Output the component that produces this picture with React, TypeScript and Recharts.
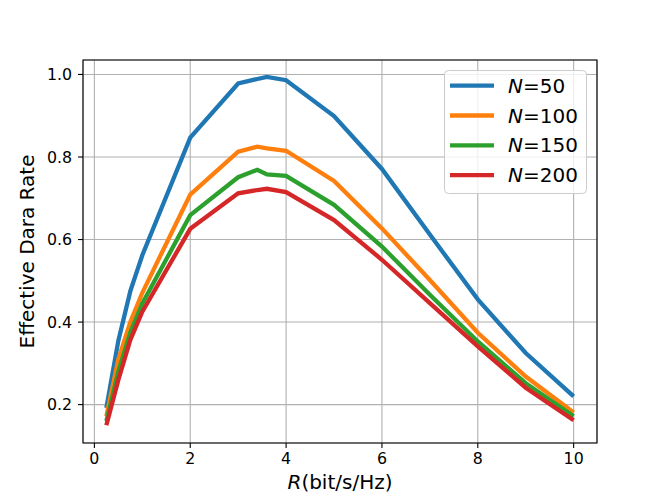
import {
  CartesianGrid,
  Label,
  Legend,
  Line,
  LineChart,
  ReferenceArea,
  XAxis,
  YAxis,
} from "recharts";

const rates = [0.25, 0.5, 0.75, 1, 2, 3, 3.4, 3.6, 4, 5, 6, 7, 8, 9, 10];

const n50 = [0.192, 0.355, 0.475, 0.562, 0.847, 0.978, 0.989, 0.994, 0.986, 0.899, 0.771, 0.612, 0.455, 0.325, 0.22];
const n100 = [0.172, 0.31, 0.4, 0.471, 0.709, 0.813, 0.825, 0.821, 0.815, 0.742, 0.627, 0.502, 0.374, 0.268, 0.181];
const n150 = [0.16, 0.28, 0.375, 0.445, 0.659, 0.751, 0.769, 0.758, 0.754, 0.684, 0.583, 0.466, 0.353, 0.252, 0.172];
const n200 = [0.15, 0.26, 0.357, 0.425, 0.626, 0.712, 0.72, 0.723, 0.715, 0.647, 0.551, 0.446, 0.341, 0.241, 0.162];

const xTicks = [0, 2, 4, 6, 8, 10];
const yTicks = [0.2, 0.4, 0.6, 0.8, 1.0];

const series = [
  { key: "n50", label: "50", color: "#1f77b4", values: n50 },
  { key: "n100", label: "100", color: "#ff7f0e", values: n100 },
  { key: "n150", label: "150", color: "#2ca02c", values: n150 },
  { key: "n200", label: "200", color: "#d62728", values: n200 },
];

const data = rates.map((r, i) => {
  const row: Record<string, number> = { r };
  series.forEach((s) => {
    row[s.key] = s.values[i];
  });
  return row;
});

const X_DOMAIN: [number, number] = [-0.2375, 10.4875];
const Y_DOMAIN: [number, number] = [0.107, 1.035];
const FONT = "DejaVu Sans";

function XLabel({ viewBox }: any) {
  const { x, y, width } = viewBox;
  return (
    <text x={x + width / 2} y={y + 46} textAnchor="middle" fontSize={20} fontFamily={FONT} fill="#000">
      <tspan fontStyle="italic">R</tspan>
      <tspan>(bit/s/Hz)</tspan>
    </text>
  );
}

function YLabel({ viewBox }: any) {
  const { x, y, height } = viewBox;
  const cx = x + 10.5;
  const cy = y + height / 2;
  return (
    <text
      x={cx}
      y={cy}
      transform={`rotate(-90, ${cx}, ${cy})`}
      textAnchor="middle"
      fontSize={20}
      fontFamily={FONT}
      fill="#000"
    >
      Effective Dara Rate
    </text>
  );
}

function LegendBox() {
  return (
    <svg width={144} height={125} style={{ display: "block" }}>
      <rect x={0.5} y={0.5} width={142} height={123} rx={4} fill="#fff" fillOpacity={0.8} stroke="#cccccc" />
      {series.map((s, i) => {
        const ly = 15.7 + i * 29.8;
        return (
          <g key={s.key}>
            <line x1={6} x2={50} y1={ly} y2={ly} stroke={s.color} strokeWidth={4.3} />
            <text x={64} y={ly + 7} fontSize={20} fontFamily={FONT} fill="#000">
              <tspan fontStyle="italic">N</tspan>
              <tspan>={s.label}</tspan>
            </text>
          </g>
        );
      })}
    </svg>
  );
}

export default function App() {
  return (
    <div style={{ position: "absolute", left: 0, top: 0, background: "#fff" }}>
      <LineChart
        width={664}
        height={498}
        data={data}
        margin={{ top: 60, right: 67, bottom: 5, left: 23 }}
        style={{ fontFamily: FONT }}
      >
        <CartesianGrid stroke="#b0b0b0" strokeWidth={1.1} />
        <XAxis
          dataKey="r"
          type="number"
          domain={X_DOMAIN}
          ticks={xTicks}
          allowDataOverflow
          height={50}
          axisLine={false}
          tickLine={{ stroke: "#000", strokeWidth: 1.1 }}
          tickSize={5}
          tickMargin={5}
          tick={{ fill: "#000", fontSize: 15.8, fontFamily: FONT }}
          tickFormatter={(v: number) => String(v)}
        >
          <Label content={XLabel} />
        </XAxis>
        <YAxis
          type="number"
          domain={Y_DOMAIN}
          ticks={yTicks}
          allowDataOverflow
          width={60}
          axisLine={false}
          tickLine={{ stroke: "#000", strokeWidth: 1.1 }}
          tickSize={5}
          tickMargin={6}
          tick={{ fill: "#000", fontSize: 15.8, fontFamily: FONT }}
          tickFormatter={(v: number) => v.toFixed(1)}
        >
          <Label content={YLabel} />
        </YAxis>
        {series.map((s) => (
          <Line
            key={s.key}
            type="linear"
            dataKey={s.key}
            stroke={s.color}
            strokeWidth={4.3}
            dot={false}
            isAnimationActive={false}
          />
        ))}
        <ReferenceArea
          x1={X_DOMAIN[0]}
          x2={X_DOMAIN[1]}
          y1={Y_DOMAIN[0]}
          y2={Y_DOMAIN[1]}
          fill="none"
          stroke="#000"
          strokeWidth={1.1}
          ifOverflow="visible"
        />
        <Legend
          layout="vertical"
          align="center"
          verticalAlign="middle"
          content={LegendBox}
          wrapperStyle={{ position: "absolute", left: 444, top: 70, width: 144, height: 125 }}
        />
      </LineChart>
    </div>
  );
}
